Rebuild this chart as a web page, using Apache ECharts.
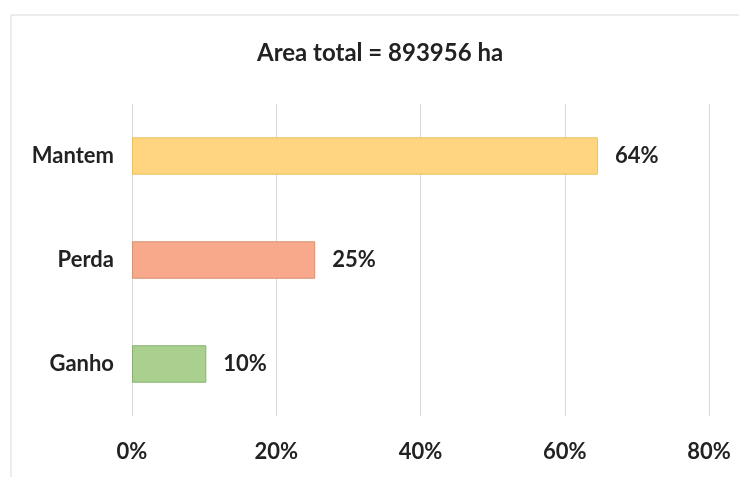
<!DOCTYPE html>
<html>
<head>
<meta charset="utf-8">
<script src="https://cdn.jsdelivr.net/npm/echarts@6/dist/echarts.min.js"></script>
<style>
  html, body { margin: 0; padding: 0; background: #fff; }
  #chart { width: 739px; height: 477px; }
</style>
</head>
<body>
<div id="chart"></div>
<script>
// chart data
const titleText = 'Area total = 893956 ha';
const categories = ['Mantem', 'Perda', 'Ganho'];
const shares = [64.6, 25.4, 10.3];
const shareLabels = ['64%', '25%', '10%'];
const fills = ['#FFD580', '#F8A98B', '#A9D08E'];
const borders = ['#E9C15E', '#D98E72', '#87AF70'];
const xTicks = [0, 20, 40, 60, 80];

const fontFamily = 'Lato, "Open Sans", sans-serif';

const chart = echarts.init(document.getElementById('chart'));

const option = {
  animation: false,
  backgroundColor: '#fff',
  graphic: [{
    // outer chart frame, only top and left edges visible
    type: 'rect',
    shape: { x: 11, y: 15, width: 760, height: 500 },
    style: { fill: 'none', stroke: '#d9d9d9', lineWidth: 1 },
    silent: true
  }],
  title: {
    text: titleText,
    left: 252,
    top: 36,
    textStyle: { fontFamily, fontSize: 24, fontWeight: 'bold', color: '#222' }
  },
  grid: { left: 132, right: 30, top: 104, bottom: 61 },
  xAxis: {
    type: 'value',
    min: xTicks[0],
    max: xTicks[xTicks.length - 1],
    interval: 20,
    axisLine: { show: false },
    axisTick: { show: false },
    splitLine: { lineStyle: { color: '#d9d9d9', width: 1 } },
    axisLabel: {
      margin: 25,
      formatter: v => v + '%',
      fontFamily, fontSize: 22, fontWeight: 'bold', color: '#222'
    }
  },
  yAxis: {
    type: 'category',
    data: categories,
    inverse: true,
    axisLine: { show: false },
    axisTick: { show: false },
    axisLabel: {
      margin: 18,
      fontFamily, fontSize: 22, fontWeight: 'bold', color: '#222'
    }
  },
  series: [{
    type: 'bar',
    barWidth: '36%',
    data: shares.map((v, i) => ({
      value: v,
      itemStyle: { color: fills[i], borderColor: borders[i], borderWidth: 1 }
    })),
    label: {
      show: true,
      position: 'right',
      distance: 17,
      formatter: p => shareLabels[p.dataIndex],
      fontFamily, fontSize: 22, fontWeight: 'bold', color: '#222'
    }
  }]
};

chart.setOption(option);
</script>
</body>
</html>
